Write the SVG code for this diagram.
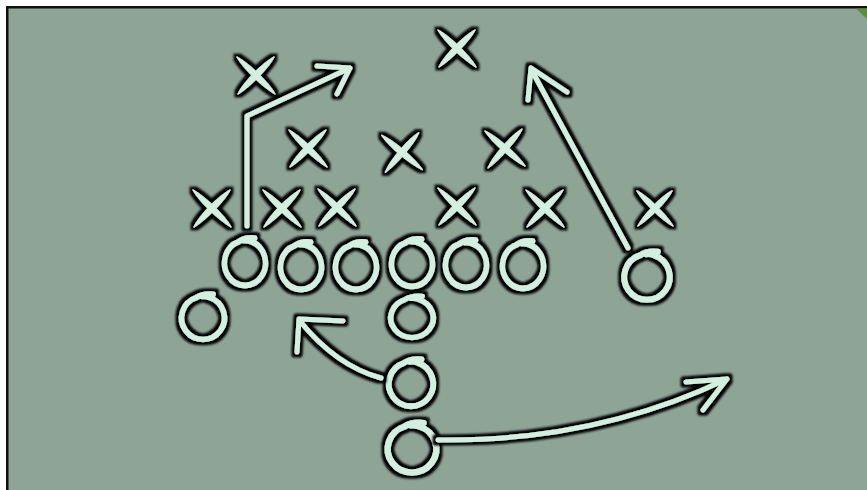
<svg xmlns="http://www.w3.org/2000/svg" xmlns:xlink="http://www.w3.org/1999/xlink" width="867" height="490" viewBox="0 0 867 490">
<style>
.chalk{filter:url(#glow)}
.ln{fill:none;stroke:#d3efdf;stroke-width:5;stroke-linecap:round;stroke-linejoin:round}
.lens{fill:#d3efdf;stroke:#d3efdf;stroke-width:1.3;stroke-linejoin:round}
</style>
<defs>
<filter id="glow" x="-40%" y="-40%" width="180%" height="180%">
<feMorphology in="SourceAlpha" operator="dilate" radius="2.6" result="d"/>
<feGaussianBlur in="d" stdDeviation="1.2" result="b"/>
<feMerge><feMergeNode in="b"/><feMergeNode in="SourceGraphic"/></feMerge>
</filter>
<g id="xm">
<path class="lens" d="M-19,-18 C-7.5,-11.5 11.5,6.5 19,19 C6.5,11.5 -11.5,-5.5 -19,-18Z"/>
<path class="lens" d="M18,-18 C12,-6.5 -6.5,11.5 -18,19 C-11.5,6.5 6.5,-11.5 18,-18Z"/>
</g>
<path id="om" class="ln" d="M9,-21 Q0,-22 -6,-18 A19 19 0 1 0 6,-18 Q3,-19.5 -1,-19"/>
</defs>
<rect width="867" height="490" fill="#ffffff"/>
<rect x="6" y="6" width="861" height="484" fill="#111"/>
<rect x="8.5" y="8.5" width="858.5" height="481.5" fill="#8da496"/>
<polygon points="856,8.5 867,8.5 867,19" fill="#5e8c3c"/>

<g id="defense">
<g id="x1" class="chalk"><use href="#xm" transform="translate(256,75)"/></g>
<g id="x2" class="chalk"><use href="#xm" transform="translate(457,48)"/></g>
<g id="x3" class="chalk"><use href="#xm" transform="translate(308,148)"/></g>
<g id="x4" class="chalk"><use href="#xm" transform="translate(402,152) rotate(-4)"/></g>
<g id="x5" class="chalk"><use href="#xm" transform="translate(505,148) rotate(-3)"/></g>
<g id="x6" class="chalk"><use href="#xm" transform="translate(212,208)"/></g>
<g id="x7" class="chalk"><use href="#xm" transform="translate(282,208)"/></g>
<g id="x8" class="chalk"><use href="#xm" transform="translate(337,207)"/></g>
<g id="x9" class="chalk"><use href="#xm" transform="translate(457,206)"/></g>
<g id="x10" class="chalk"><use href="#xm" transform="translate(545,208)"/></g>
<g id="x11" class="chalk"><use href="#xm" transform="translate(655,208) scale(0.95)"/></g>
</g>

<g id="connectors">
<g class="chalk"><path class="ln" d="M247,226 L247,116 L350,68 M317,66 L350,68 L337,94"/></g>
<g class="chalk"><path class="ln" d="M628,248 L531,69 M567,92 L531,68 L528,100"/></g>
</g>

<g id="offense">
<g id="o1" class="chalk"><use href="#om" transform="translate(245,263) scale(1.08,1.18)"/></g>
<g id="o2" class="chalk"><use href="#om" transform="translate(301,267) scale(1.08,1.18)"/></g>
<g id="o3" class="chalk"><use href="#om" transform="translate(356,267) scale(1.08,1.18)"/></g>
<g id="o4" class="chalk"><use href="#om" transform="translate(412,264) scale(1.08,1.18)"/></g>
<g id="o5" class="chalk"><use href="#om" transform="translate(466,265) scale(1.08,1.18)"/></g>
<g id="o6" class="chalk"><use href="#om" transform="translate(523,266) scale(1.08,1.18)"/></g>
<g id="o7" class="chalk"><use href="#om" transform="translate(647,277) scale(1.2)"/></g>
<g id="o8" class="chalk"><use href="#om" transform="translate(203,318) scale(1.13)"/></g>
<g id="o9" class="chalk"><use href="#om" transform="translate(412,318) scale(1.12,1.03)"/></g>
<g id="o10" class="chalk"><use href="#om" transform="translate(411,384) scale(1.17)"/></g>
<g id="o11" class="chalk"><use href="#om" transform="translate(412,449) scale(1.28,1.24)"/></g>
</g>

<g id="connectors2">
<g class="chalk"><path class="ln" d="M381,378 Q336,366 299,320 M343,321 L299,319 L297,352"/></g>
<g class="chalk"><path class="ln" d="M438,440 Q595,442 727,379 M686,382 L727,379 L703,410"/></g>
</g>
</svg>
